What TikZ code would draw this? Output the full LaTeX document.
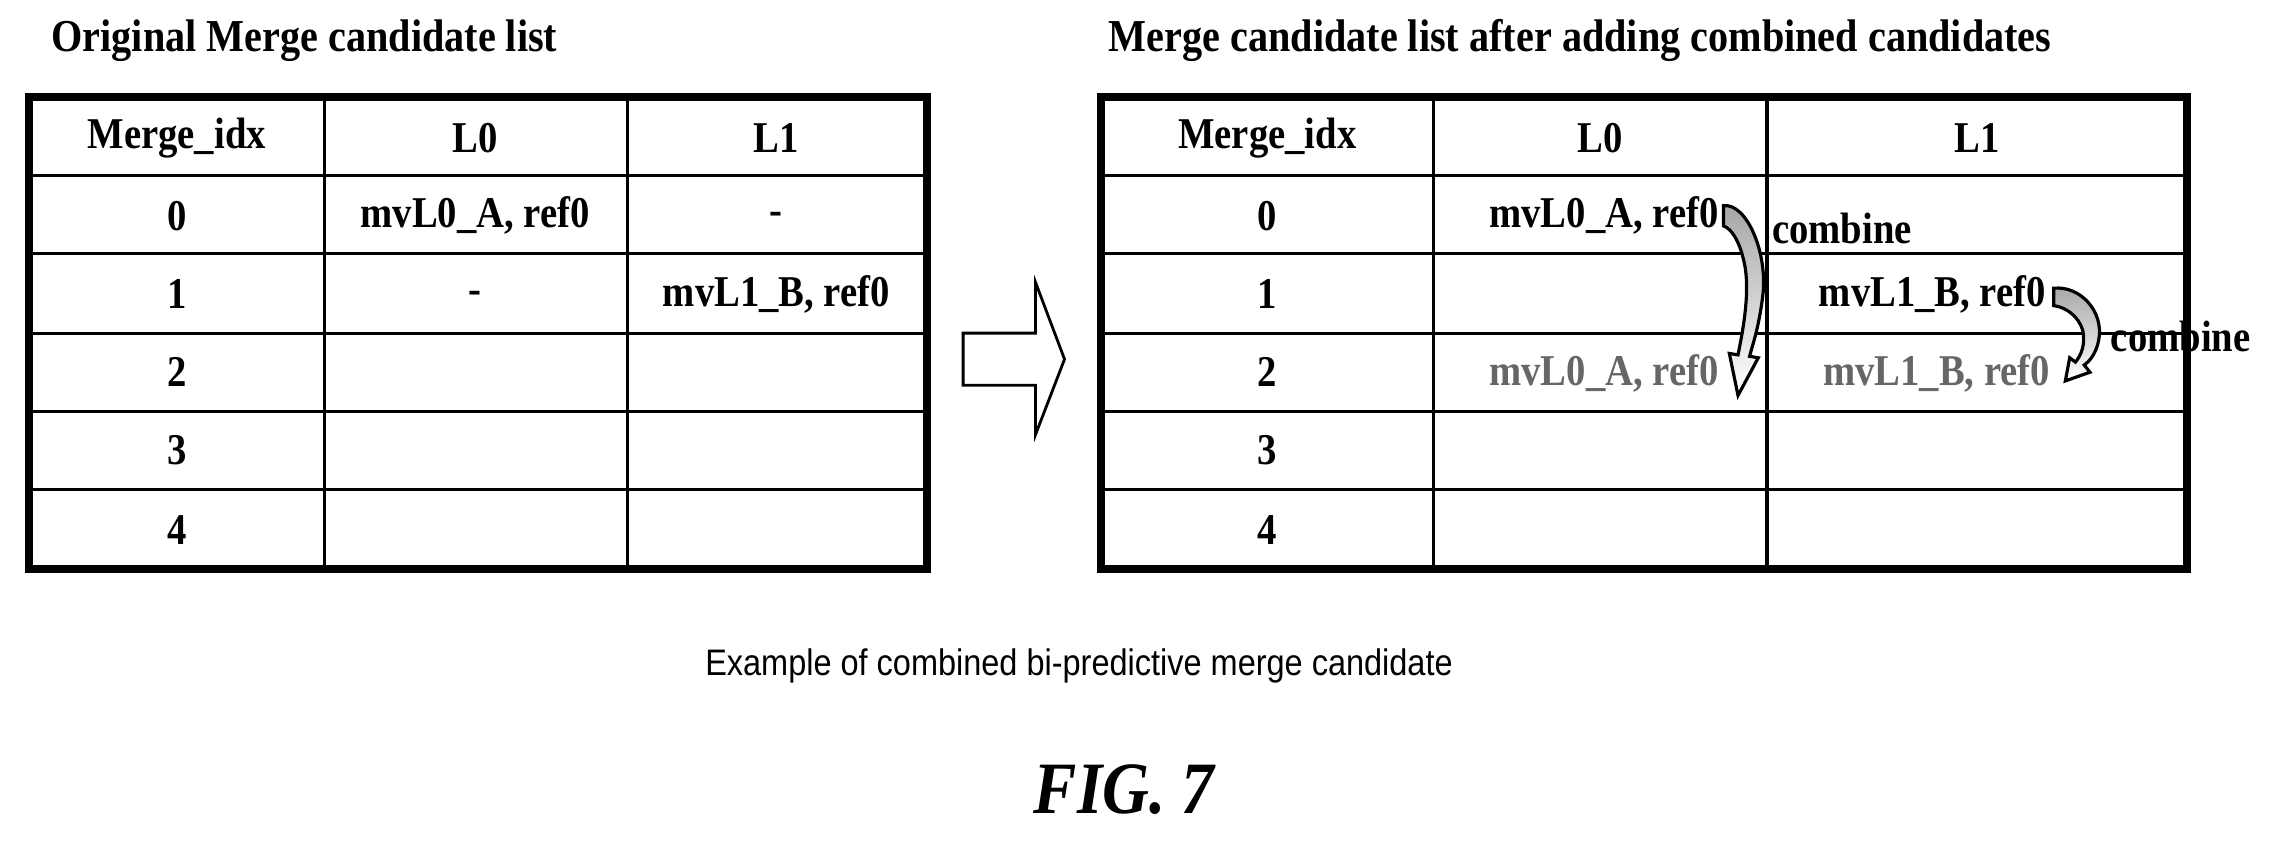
\documentclass[tikz,border=0pt]{standalone}
\usepackage{fontspec}
\setmainfont{Liberation Serif}[FakeStretch=0.88]
\setsansfont{Liberation Sans}
\usepackage{graphicx}

\tikzset{
  cell/.style={font=\bfseries\fontsize{12.5}{15}\selectfont, inner sep=0pt},
  added/.style={cell, color=black!60},
  title/.style={font=\bfseries\fontsize{13}{15}\selectfont, anchor=west, inner sep=0pt},
  thin rule/.style={line width=0.9pt},
  thick rule/.style={line width=2.2pt},
  bent arrow/.style={draw=black, line width=0.9pt, top color=black!35, bottom color=white}
}

\begin{document}
\begin{tikzpicture}[x=0.01448cm, y=-0.01448cm]
	\useasboundingbox (0,0) rectangle (1568,583.6);
	% titles
	\node[title] (ttlA) at (35,28) {Original Merge candidate list};
	\node[title] (ttlB) at (765,28) {Merge candidate list after adding combined candidates};
	% left table
	\foreach \y in {121,175,230,284,338} \draw[thin rule] (20,\y) -- (640,\y);
	\draw[thin rule] (224,67) -- (224,393);
	\draw[thin rule] (433,67) -- (433,393);
	\draw[thick rule] (20,67) rectangle (640,393);
	% right table
	\foreach \y in {121,175,230,284,338} \draw[thin rule] (760,\y) -- (1510,\y);
	\draw[thin rule] (990,67) -- (990,393);
	\draw[thin rule] (1220,67) -- (1220,393);
	\draw[thick rule] (760,67) rectangle (1510,393);
	% header and index column
	\node[cell] (hA0) at (122,95) {Merge\_idx};
	\node[cell] (hA1) at (328,95) {L0};
	\node[cell] (hA2) at (536,95) {L1};
	\node[cell] (hB0) at (875,95) {Merge\_idx};
	\node[cell] (hB1) at (1105,95) {L0};
	\node[cell] (hB2) at (1365,95) {L1};
	\foreach \i/\y in {0/149,1/203,2/257,3/311,4/366} {
		\node[cell] (idxA\i) at (122,\y) {\i};
		\node[cell] (idxB\i) at (875,\y) {\i};
	}
	% left entries
	\node[cell] (aL0) at (328,149) {mvL0\_A, ref0};
	\node[cell] (aL1) at (536,151) {-};
	\node[cell] (bL0) at (328,205) {-};
	\node[cell] (bL1) at (536,203) {mvL1\_B, ref0};
	% right entries
	\node[cell, anchor=east] (cL0) at (1187,149) {mvL0\_A, ref0};
	\node[cell, anchor=east] (dL1) at (1413,203) {mvL1\_B, ref0};
	\node[added, anchor=east] (eL0) at (1187,258) {mvL0\_A, ref0};
	\node[added, anchor=east] (eL1) at (1416,258) {mvL1\_B, ref0};
	\node[cell, anchor=west] (cmbA) at (1223,158) {combine};
	\node[cell, anchor=west] (cmbB) at (1457,232) {combine};
	% bent arrows
	\path[bent arrow] (1190,142) .. controls (1206,140) and (1221,175) .. (1217,205)
	  .. controls (1214,228) and (1210,238) .. (1208,246) -- (1214,247) -- (1200,273)
	  -- (1194,244) -- (1200,245) .. controls (1203,230) and (1208,205) .. (1205,185)
	  .. controls (1202,168) and (1196,158) .. (1190,156) -- cycle;
	\path[bent arrow] (1418,199) .. controls (1436,197) and (1453,215) .. (1449,235)
	  .. controls (1447,245) and (1442,250) .. (1439,252) -- (1443,257) -- (1426,263)
	  -- (1429,247) -- (1433,250) .. controls (1437,245) and (1440,238) .. (1438,228)
	  .. controls (1435,218) and (1426,212) .. (1418,211) -- cycle;
	% big hollow arrow
	\draw[line width=0.8pt] (665,230) -- (715,230) -- (715,195) -- (735,248)
	  -- (715,300) -- (715,266) -- (665,266) -- cycle;
	% captions
	\node[font=\sffamily\fontsize{10.5}{12}\selectfont, inner sep=0pt] (cap) at (745,460)
	  {\scalebox{0.88}[1]{Example of combined bi-predictive merge candidate}};
	\node[font=\bfseries\itshape\fontsize{21}{24}\selectfont, inner sep=0pt] (fig) at (776,545) {FIG. 7};
\end{tikzpicture}
\end{document}
